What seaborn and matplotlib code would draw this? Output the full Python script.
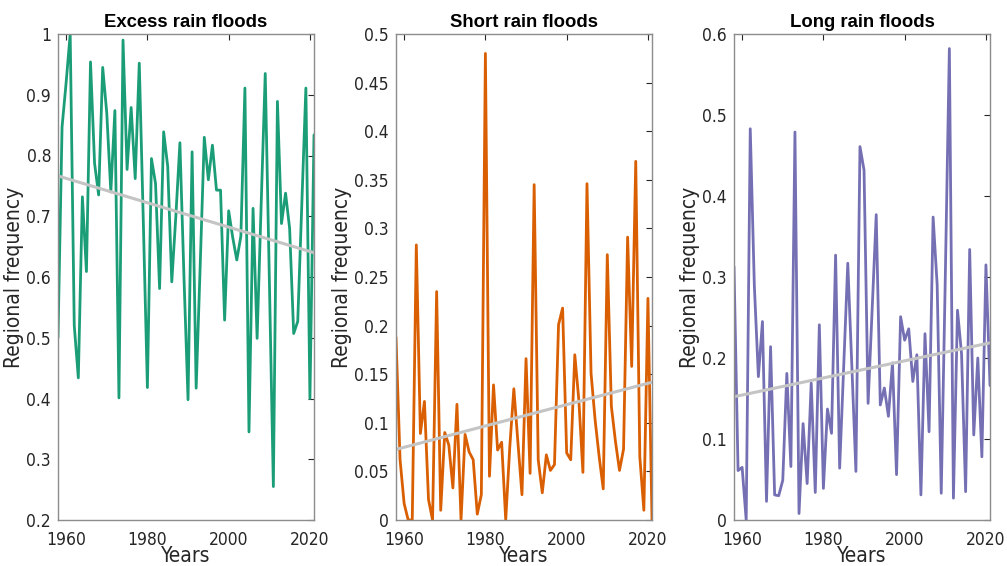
import numpy as np
import pandas as pd
import matplotlib
matplotlib.use("Agg")
import matplotlib.pyplot as plt
from matplotlib import font_manager as fm
import seaborn as sns

years = list(range(1958, 2022))

excess_rain = [0.50, 0.847, 0.92, 1.00, 0.52, 0.434, 0.732, 0.609, 0.954, 0.787,
               0.735, 0.945, 0.87, 0.74, 0.874, 0.401, 0.99, 0.777, 0.879, 0.762,
               0.952, 0.69, 0.418, 0.795, 0.754, 0.581, 0.839, 0.782, 0.592, 0.70,
               0.821, 0.60, 0.398, 0.806, 0.417, 0.62, 0.83, 0.76, 0.817, 0.743,
               0.743, 0.529, 0.709, 0.665, 0.628, 0.667, 0.911, 0.345, 0.713, 0.499,
               0.72, 0.935, 0.60, 0.255, 0.889, 0.688, 0.738, 0.68, 0.507, 0.527,
               0.72, 0.911, 0.40, 0.834]

short_rain = [0.188, 0.062, 0.017, 0.0, 0.0, 0.283, 0.089, 0.122, 0.021, 0.0,
              0.235, 0.010, 0.090, 0.077, 0.033, 0.119, 0.0, 0.088, 0.070, 0.062,
              0.006, 0.026, 0.480, 0.045, 0.139, 0.072, 0.080, 0.0, 0.075, 0.135,
              0.080, 0.026, 0.166, 0.048, 0.345, 0.062, 0.028, 0.067, 0.051, 0.057,
              0.201, 0.218, 0.069, 0.062, 0.170, 0.123, 0.049, 0.346, 0.151, 0.103,
              0.065, 0.032, 0.273, 0.117, 0.081, 0.051, 0.073, 0.291, 0.158, 0.369,
              0.065, 0.010, 0.228, 0.0]

long_rain = [0.313, 0.061, 0.065, 0.0, 0.483, 0.29, 0.177, 0.245, 0.023, 0.214,
             0.031, 0.030, 0.049, 0.181, 0.066, 0.479, 0.008, 0.119, 0.045, 0.169,
             0.034, 0.241, 0.039, 0.137, 0.107, 0.327, 0.064, 0.19, 0.317, 0.19,
             0.060, 0.461, 0.432, 0.144, 0.26, 0.377, 0.142, 0.163, 0.128, 0.194,
             0.056, 0.251, 0.222, 0.236, 0.171, 0.204, 0.031, 0.230, 0.109, 0.374,
             0.29, 0.033, 0.30, 0.582, 0.027, 0.259, 0.205, 0.035, 0.334, 0.105,
             0.200, 0.078, 0.315, 0.166]

titles = ["Excess rain floods", "Short rain floods", "Long rain floods"]
series = [excess_rain, short_rain, long_rain]
colors = ["#1b9e77", "#d95f02", "#7570b3"]
ylims = [(0.2, 1.0), (0.0, 0.5), (0.0, 0.6)]
ysteps = [0.1, 0.05, 0.1]
xticks = [1960, 1980, 2000, 2020]

sns.set_theme(style="white")


def _is_regular(f):
    return f.style == "normal" and f.weight in (400, "normal", "regular") \
        and "Italic" not in f.fname and "Mono" not in f.name


# prefer an upright narrow face for the axis text when one is installed
narrow = None
for f in sorted(fm.fontManager.ttflist, key=lambda f: f.fname):
    if ("Narrow" in f.name or "Condensed" in f.name or "Condensed" in f.fname
            or str(f.stretch) in ("condensed", "semi-condensed")) and _is_regular(f):
        narrow = f.fname
        break

plt.rcParams["font.family"] = ["Liberation Sans", "DejaVu Sans"]

if narrow:
    tick_fp = fm.FontProperties(fname=narrow, size=12.5)
    lab_fp = fm.FontProperties(fname=narrow, size=15)
else:
    tick_fp = fm.FontProperties(family=["Liberation Sans", "DejaVu Sans"], size=11.5)
    lab_fp = fm.FontProperties(family=["Liberation Sans", "DejaVu Sans"], size=14.5)

fig = plt.figure(figsize=(10.07, 5.66), dpi=100)
lefts = [58, 396, 734]
W, H = 1007, 566
axes = [fig.add_axes([l / W, 46 / H, 256 / W, 486 / H]) for l in lefts]

spine_col = "#8c8c8c"
text_col = "#262626"

for ax, title, vals, col, (y0, y1), step in zip(axes, titles, series, colors, ylims, ysteps):
    df = pd.DataFrame({"Years": years, "freq": vals})
    sns.lineplot(data=df, x="Years", y="freq", ax=ax, color=col, lw=2.0)
    sns.regplot(data=df, x="Years", y="freq", ax=ax, scatter=False, ci=None,
                truncate=True, line_kws={"color": "#c4c4c4", "lw": 2.2})
    ax.set_xlim(1958, 2021)
    ax.set_ylim(y0, y1)
    ax.set_xticks(xticks)
    ax.set_xticklabels([str(t) for t in xticks], fontproperties=tick_fp, color=text_col)
    yt = np.round(np.arange(y0, y1 + step / 2, step), 2)
    ax.set_yticks(yt)
    ax.set_yticklabels([f"{v:g}" for v in yt], fontproperties=tick_fp, color=text_col)
    ax.set_xlabel("Years", fontproperties=lab_fp, color=text_col, labelpad=-2)
    ax.set_ylabel("Regional frequency", fontproperties=lab_fp, color=text_col, labelpad=2)
    ax.set_title(title, fontsize=13.3, fontweight="bold", color="black", pad=5)
    ax.tick_params(axis="both", direction="in", length=4, width=0.8, colors=text_col,
                   top=True, right=True)
    ax.tick_params(axis="x", pad=8)
    ax.tick_params(axis="y", pad=5)
    for s in ax.spines.values():
        s.set_color(spine_col)
        s.set_linewidth(1.0)
    ax.grid(False)

fig.savefig("out.png", dpi=100)
